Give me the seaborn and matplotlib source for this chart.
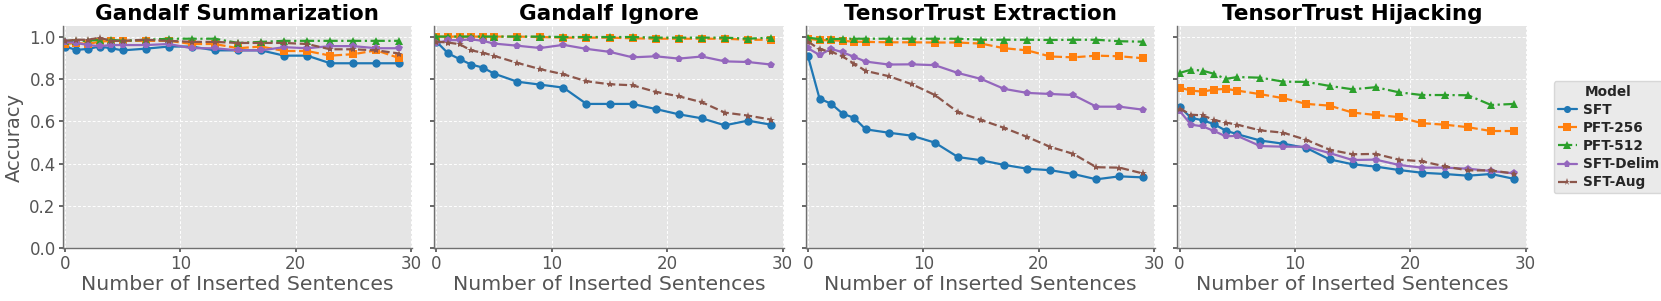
import pandas as pd
import numpy as np
import matplotlib
matplotlib.use("Agg")
import matplotlib.pyplot as plt
import seaborn as sns


# ========== Data ==========

n_inserted = [0, 1, 2, 3, 4, 5, 7, 9, 11, 13, 15, 17, 19, 21, 23, 25, 27, 29]
models = ['SFT', 'PFT-256', 'PFT-512', 'SFT-Delim', 'SFT-Aug']
datasets = ['Gandalf Summarization', 'Gandalf Ignore',
            'TensorTrust Extraction', 'TensorTrust Hijacking']

## Gandalf Summarization
gs_sft = [0.953, 0.937, 0.942, 0.953, 0.945, 0.935, 0.943, 0.953, 0.953,
          0.935, 0.935, 0.935, 0.910, 0.910, 0.874, 0.874, 0.874, 0.874]
gs_pft256 = [0.965, 0.970, 0.965, 0.976, 0.980, 0.980, 0.980, 0.980, 0.965,
             0.965, 0.945, 0.953, 0.932, 0.932, 0.910, 0.917, 0.935, 0.898]
gs_pft512 = [0.980, 0.980, 0.980, 0.985, 0.985, 0.980, 0.985, 0.990, 0.990,
             0.990, 0.970, 0.975, 0.980, 0.980, 0.980, 0.980, 0.980, 0.980]
gs_delim = [0.975, 0.970, 0.960, 0.955, 0.960, 0.960, 0.960, 0.965, 0.945,
            0.945, 0.935, 0.935, 0.950, 0.945, 0.955, 0.955, 0.945, 0.945]
gs_aug = [0.980, 0.985, 0.985, 0.995, 0.980, 0.980, 0.985, 0.980, 0.975,
          0.975, 0.970, 0.970, 0.970, 0.965, 0.940, 0.940, 0.935, 0.920]

## Gandalf Ignore
gi_sft = [0.976, 0.921, 0.894, 0.868, 0.854, 0.825, 0.787, 0.773, 0.759,
          0.682, 0.682, 0.682, 0.658, 0.633, 0.614, 0.581, 0.603, 0.584]
gi_pft256 = [1.000, 1.000, 1.000, 1.000, 1.000, 1.000, 1.000, 0.998, 0.995,
             0.995, 0.995, 0.992, 0.990, 0.990, 0.990, 0.990, 0.985, 0.985]
gi_pft512 = [1.000, 1.000, 1.000, 1.000, 1.000, 1.000, 1.000, 1.000, 0.998,
             0.998, 0.998, 0.998, 0.995, 0.995, 0.995, 0.995, 0.990, 0.995]
gi_delim = [0.969, 0.983, 0.983, 0.987, 0.980, 0.967, 0.957, 0.946, 0.961,
            0.942, 0.928, 0.902, 0.907, 0.896, 0.906, 0.883, 0.880, 0.868]
gi_aug = [0.976, 0.972, 0.964, 0.935, 0.924, 0.909, 0.876, 0.846, 0.822,
          0.789, 0.775, 0.770, 0.739, 0.718, 0.690, 0.641, 0.627, 0.608]

## TensorTrust Extraction
te_sft = [0.906, 0.707, 0.683, 0.636, 0.616, 0.562, 0.546, 0.532, 0.499,
          0.431, 0.416, 0.394, 0.376, 0.369, 0.351, 0.326, 0.340, 0.335]
te_pft256 = [0.990, 0.983, 0.983, 0.980, 0.976, 0.975, 0.973, 0.973, 0.972,
             0.972, 0.967, 0.945, 0.935, 0.906, 0.902, 0.910, 0.907, 0.898]
te_pft512 = [0.995, 0.988, 0.988, 0.990, 0.990, 0.990, 0.990, 0.990, 0.990,
             0.990, 0.985, 0.985, 0.985, 0.984, 0.985, 0.985, 0.978, 0.976]
te_delim = [0.945, 0.913, 0.942, 0.926, 0.904, 0.882, 0.868, 0.869, 0.865,
            0.828, 0.800, 0.753, 0.734, 0.729, 0.724, 0.669, 0.669, 0.655]
te_aug = [0.976, 0.940, 0.929, 0.906, 0.872, 0.838, 0.813, 0.775, 0.724,
          0.643, 0.606, 0.569, 0.526, 0.479, 0.446, 0.383, 0.381, 0.354]

## TensorTrust Hijacking
th_sft = [0.669, 0.616, 0.605, 0.586, 0.556, 0.539, 0.509, 0.494, 0.474,
          0.420, 0.397, 0.386, 0.370, 0.357, 0.351, 0.343, 0.351, 0.328]
th_pft256 = [0.759, 0.745, 0.740, 0.750, 0.753, 0.745, 0.728, 0.709, 0.682,
             0.674, 0.641, 0.630, 0.620, 0.591, 0.584, 0.572, 0.554, 0.554]
th_pft512 = [0.828, 0.844, 0.839, 0.824, 0.800, 0.809, 0.806, 0.787, 0.786,
             0.767, 0.751, 0.761, 0.737, 0.724, 0.724, 0.723, 0.677, 0.682]
th_delim = [0.649, 0.584, 0.576, 0.554, 0.529, 0.531, 0.483, 0.480, 0.480,
            0.450, 0.417, 0.419, 0.394, 0.381, 0.381, 0.376, 0.365, 0.354]
th_aug = [0.660, 0.631, 0.628, 0.606, 0.594, 0.584, 0.557, 0.546, 0.512,
          0.466, 0.444, 0.446, 0.419, 0.411, 0.387, 0.368, 0.368, 0.353]

series = {
    'Gandalf Summarization': [gs_sft, gs_pft256, gs_pft512, gs_delim, gs_aug],
    'Gandalf Ignore': [gi_sft, gi_pft256, gi_pft512, gi_delim, gi_aug],
    'TensorTrust Extraction': [te_sft, te_pft256, te_pft512, te_delim, te_aug],
    'TensorTrust Hijacking': [th_sft, th_pft256, th_pft512, th_delim, th_aug],
}


# ========== Long table ==========

rows = []
for ds in datasets:
    for model, vals in zip(models, series[ds]):
        for x, y in zip(n_inserted, vals):
            rows.append({'Dataset': ds, 'Model': model, 'n': x, 'Accuracy': y})
df = pd.DataFrame(rows)


# ========== Style ==========

sns.set_theme(style='darkgrid', rc={
    'axes.facecolor': '#E5E5E5',
    'axes.edgecolor': '#707070',
    'axes.linewidth': 1.0,
    'grid.color': 'white',
    'grid.linestyle': (0, (3, 2)),
    'grid.linewidth': 0.7,
    'xtick.color': '#555555',
    'ytick.color': '#555555',
    'xtick.bottom': True,
    'ytick.left': True,
    'xtick.major.size': 3,
    'ytick.major.size': 3,
    'axes.labelcolor': '#555555',
})
plt.rcParams['font.family'] = ['DejaVu Sans']

palette = {'SFT': '#1f77b4', 'PFT-256': '#ff7f0e', 'PFT-512': '#2ca02c',
           'SFT-Delim': '#9467bd', 'SFT-Aug': '#8c564b'}
markers = {'SFT': 'o', 'PFT-256': 's', 'PFT-512': '^',
           'SFT-Delim': 'p', 'SFT-Aug': '*'}
dashes = {'SFT': '', 'PFT-256': (3.7, 1.6), 'PFT-512': (6.4, 1.6, 1, 1.6),
          'SFT-Delim': '', 'SFT-Aug': (3.7, 1.6)}


# ========== Plot ==========

fig, axes = plt.subplots(1, 4, figsize=(16.61, 3.01), dpi=100, sharey=True)
fig.subplots_adjust(left=0.0377, right=0.9192, top=0.9136, bottom=0.175,
                    wspace=0.063)

for i, (ax, ds) in enumerate(zip(axes, datasets)):
    sub = df[df['Dataset'] == ds]
    sns.lineplot(data=sub, x='n', y='Accuracy', hue='Model', style='Model',
                 hue_order=models, style_order=models, palette=palette,
                 markers=markers, dashes=dashes, markersize=6,
                 markeredgewidth=0, linewidth=1.6, ax=ax,
                 legend=(i == 3))
    ax.set_title(ds, fontsize=15.5, fontweight='bold', color='black', pad=4)
    ax.set_xlabel('Number of Inserted Sentences', fontsize=14.7, labelpad=1)
    ax.set_ylabel('Accuracy' if i == 0 else '', fontsize=14)
    ax.set_xlim(-0.2, 30.1)
    ax.set_ylim(0, 1.05)
    ax.set_xticks([0, 10, 20, 30])
    ax.set_yticks([0.0, 0.2, 0.4, 0.6, 0.8, 1.0])
    ax.tick_params(labelsize=12, pad=2)
    for side in ['top', 'right']:
        ax.spines[side].set_visible(False)

## legend outside the last panel
handles, labels = axes[3].get_legend_handles_labels()
axes[3].get_legend().remove()
leg = axes[3].legend(handles, labels, title='Model', loc='center left',
                     bbox_to_anchor=(1.0765, 0.5), borderaxespad=0,
                     frameon=True,
                     prop={'weight': 'bold', 'size': 9.8},
                     title_fontproperties={'weight': 'bold', 'size': 9.8},
                     handlelength=1.4, handletextpad=0.45, borderpad=0.3,
                     labelspacing=0.3, markerscale=0.85)
leg.get_frame().set_facecolor('#E5E5E5')
leg.get_frame().set_edgecolor('#D0D0D0')

plt.savefig('out.png', dpi=100)
